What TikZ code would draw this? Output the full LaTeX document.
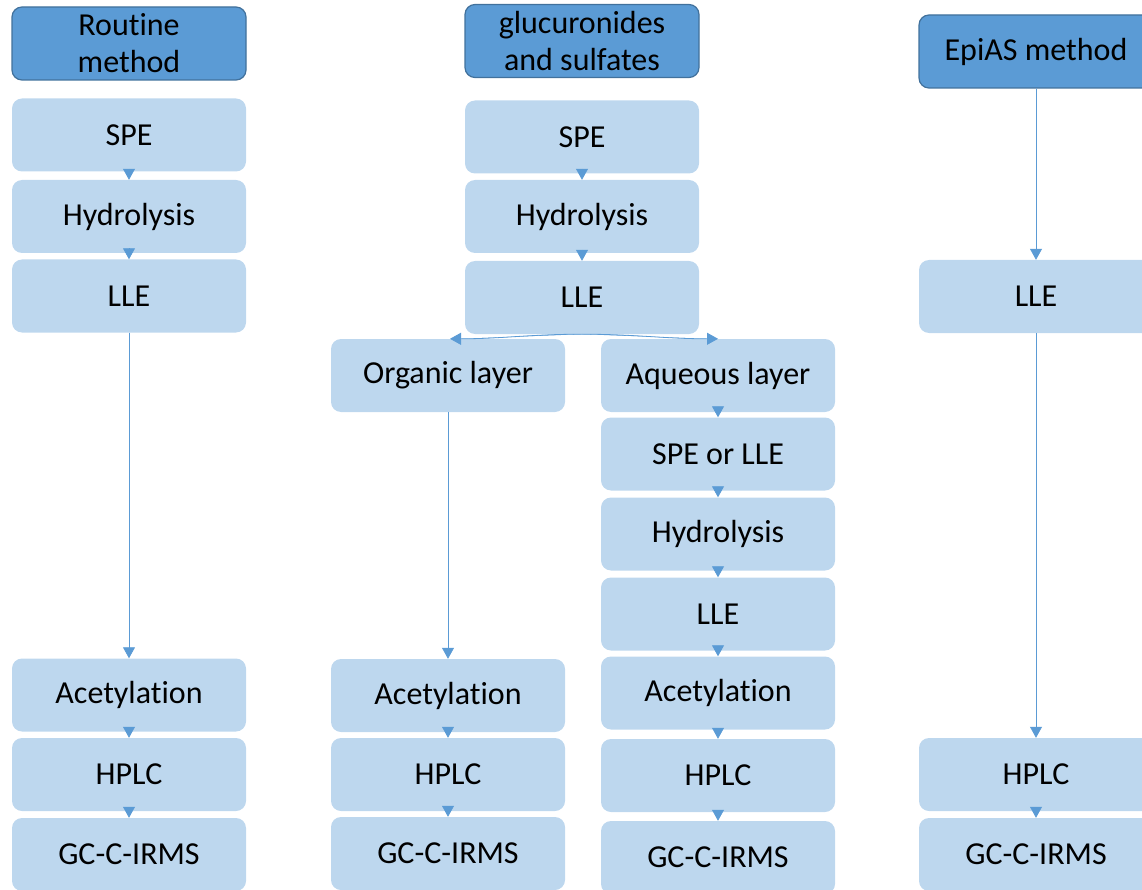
\documentclass[tikz,border=0pt]{standalone}
\usepackage{fontspec}
\setmainfont{Carlito}[Ligatures=NoCommon]
\usetikzlibrary{arrows.meta}
\definecolor{hdr}{HTML}{5B9BD5}
\definecolor{hdrb}{HTML}{41719C}
\definecolor{boxc}{HTML}{BDD7EE}
\definecolor{arc}{HTML}{5B9BD5}
\tikzset{
  stepbox/.style={rectangle, rounded corners=10pt, fill=boxc, draw=none, minimum width=234pt, minimum height=73pt, inner sep=0pt, align=center, font=\fontsize{32}{38}\selectfont, text=black},
  headbox/.style={stepbox, fill=hdr, draw=hdrb, line width=1.2pt, font=\fontsize{32}{37}\selectfont},
  arr/.style={draw=arc, line width=0.8pt, -{Triangle[length=11pt,width=12pt]}, fill=arc},
}
\begin{document}
\begin{tikzpicture}[x=1pt,y=-1pt]
\useasboundingbox (0,0) rectangle (1142,890);
\clip (0,0) rectangle (1142,890);
% column 1
\node[headbox] (h1) at (129,43.5) {Routine\\method};
\node[stepbox] (a1) at (129,135) {SPE};
\node[stepbox] (a2) at (129,216.5) {Hydrolysis};
\node[stepbox] (a3) at (129,296) {LLE};
\node[stepbox] (a4) at (129,695) {Acetylation};
\node[stepbox] (a5) at (129,774.5) {HPLC};
\node[stepbox] (a6) at (129,854.5) {GC-C-IRMS};
% column 2
\node[headbox] (h2) at (582,41) {glucuronides\\and sulfates};
\node[stepbox] (b1) at (582,137) {SPE};
\node[stepbox] (b2) at (582,216.5) {Hydrolysis};
\node[stepbox] (b3) at (582,297.5) {LLE};
\node[stepbox] (o1) at (448,375.5) {Organic layer};
\node[stepbox] (o2) at (448,695.5) {Acetylation};
\node[stepbox] (o3) at (448,774.5) {HPLC};
\node[stepbox] (o4) at (448,853.5) {GC-C-IRMS};
\node[stepbox] (q1) at (718,375.5) {Aqueous layer};
\node[stepbox] (q2) at (718,454) {SPE or LLE};
\node[stepbox] (q3) at (718,534) {Hydrolysis};
\node[stepbox] (q4) at (718,614) {LLE};
\node[stepbox] (q5) at (718,693) {Acetylation};
\node[stepbox] (q6) at (718,775.5) {HPLC};
\node[stepbox] (q7) at (718,857.5) {GC-C-IRMS};
% column 4
\node[headbox] (h4) at (1036,51.5) {EpiAS method};
\node[stepbox] (d1) at (1036,296.5) {LLE};
\node[stepbox] (d2) at (1036,774.5) {HPLC};
\node[stepbox] (d3) at (1036,854.5) {GC-C-IRMS};
% arrows column 1
\draw[arr] (a1.south) -- (a2.north);
\draw[arr] (a2.south) -- (a3.north);
\draw[arr] (a3.south) -- (a4.north);
\draw[arr] (a4.south) -- (a5.north);
\draw[arr] (a5.south) -- (a6.north);
% column 2
\draw[arr] (b1.south) -- (b2.north);
\draw[arr] (b2.south) -- (b3.north);
\draw[arr] (b3.south) to[out=180,in=0] ([xshift=2pt]o1.north);
\draw[arr] (b3.south) to[out=0,in=180] (q1.north);
\draw[arr] (o1.south) -- (o2.north);
\draw[arr] (o2.south) -- (o3.north);
\draw[arr] (o3.south) -- (o4.north);
\draw[arr] (q1.south) -- (q2.north);
\draw[arr] (q2.south) -- (q3.north);
\draw[arr] (q3.south) -- (q4.north);
\draw[arr] (q4.south) -- (q5.north);
\draw[arr] (q5.south) -- (q6.north);
\draw[arr] (q6.south) -- (q7.north);
% column 4
\draw[arr] (h4.south) -- (d1.north);
\draw[arr] (d1.south) -- (d2.north);
\draw[arr] (d2.south) -- (d3.north);
\end{tikzpicture}
\end{document}
